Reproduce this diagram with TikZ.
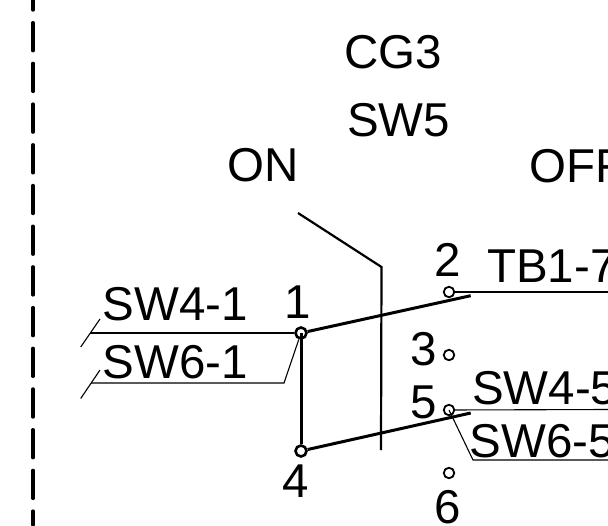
\documentclass[tikz,border=0pt]{standalone}
\usepackage{fontspec}
\setmainfont{Liberation Sans}
\begin{document}
\begin{tikzpicture}[
        x=1pt, y=-1pt,
        every node/.style={font=\fontsize{47.5}{47.5}\selectfont, inner sep=0pt},
        lbl/.style={anchor=base},
        lblw/.style={anchor=base west},
        term/.style={circle, draw, fill=white, minimum size=10.5pt, line width=1.8pt},
        termb/.style={circle, draw, minimum size=11pt, line width=2.6pt},
        wire/.style={line width=1.1pt},
        blade/.style={line width=3pt}
    ]
    \useasboundingbox (0,0) rectangle (608,525);
    \clip (0,0) rectangle (608,525);

    % Enclosure edge
    \coordinate (edgetop) at (33,-18);
    \coordinate (edgebot) at (33,525);
    \draw[line width=3.4pt, line cap=round, dash pattern=on 28pt off 12.7pt] (edgetop) -- (edgebot);

    % Titles
    \node[lbl] (cg) at (393.5,68.5) {CG3};
    \node[lbl] (swname) at (398.5,136) {SW5};
    \node[lbl] (on) at (263,181.5) {ON};
    \node[lblw] (off) at (529,182.5) {OFF};

    % Terminals
    \node[term] (t2) at (449,292) {};
    \node[term] (t3) at (449,355) {};
    \node[term] (t5) at (449,410) {};
    \node[term] (t6) at (449,473) {};

    % Terminal numbers
    \node[lbl] (n1) at (298,318) {1};
    \node[lbl] (n2) at (448,276) {2};
    \node[lbl] (n3) at (424,365) {3};
    \node[lbl] (n4) at (296,497) {4};
    \node[lbl] (n5) at (424,418) {5};
    \node[lbl] (n6) at (448,523) {6};

    % Wire labels
    \node[lblw] (sw41) at (102.5,320) {SW4-1};
    \node[lblw] (sw61) at (102.5,378) {SW6-1};
    \node[lblw] (tb17) at (487,282) {TB1-7};
    \node[lblw] (sw45) at (472,404) {SW4-5};
    \node[lblw] (sw65) at (469.5,457) {SW6-5};

    % Free ends of the wires
    \coordinate (a1) at (90,333);
    \coordinate (a2) at (80.7,347);
    \coordinate (a3) at (100,319);
    \coordinate (b1) at (91,383);
    \coordinate (b2) at (80.7,398.5);
    \coordinate (b3) at (100,370);
    \coordinate (b4) at (284,383);
    \coordinate (c1) at (608,292);
    \coordinate (d1) at (608,409.5);
    \coordinate (e1) at (473,460);
    \coordinate (e2) at (608,460);

    % Moving contacts
    \node[termb] (t1) at (301,333) {};
    \node[termb] (t4) at (301,451) {};
    \coordinate (k1) at (470.7,295.7);
    \coordinate (k2) at (470.7,413);
    \coordinate (m1) at (298,213);
    \coordinate (m2) at (381.5,267);
    \coordinate (m3) at (381,450);
    \draw[blade] (t1) -- (k1);
    \draw[blade] (t4) -- (k2);
    \draw[blade] (t1.center) -- (t4);
    \draw[line width=2.2pt] (m1) -- (m2) -- (m3);

    % Wires
    \draw[wire] (a2) -- (a3);
    \draw[wire] (b2) -- (b3);
    \draw[wire] (a1) -- (t1);
    \draw[wire] (b1) -- (b4) -- (t1);
    \draw[wire] (t2) -- (c1);
    \draw[wire] (t5) -- (d1);
    \draw[wire] (t5.center) -- (e1) -- (e2);

\end{tikzpicture}
\end{document}
